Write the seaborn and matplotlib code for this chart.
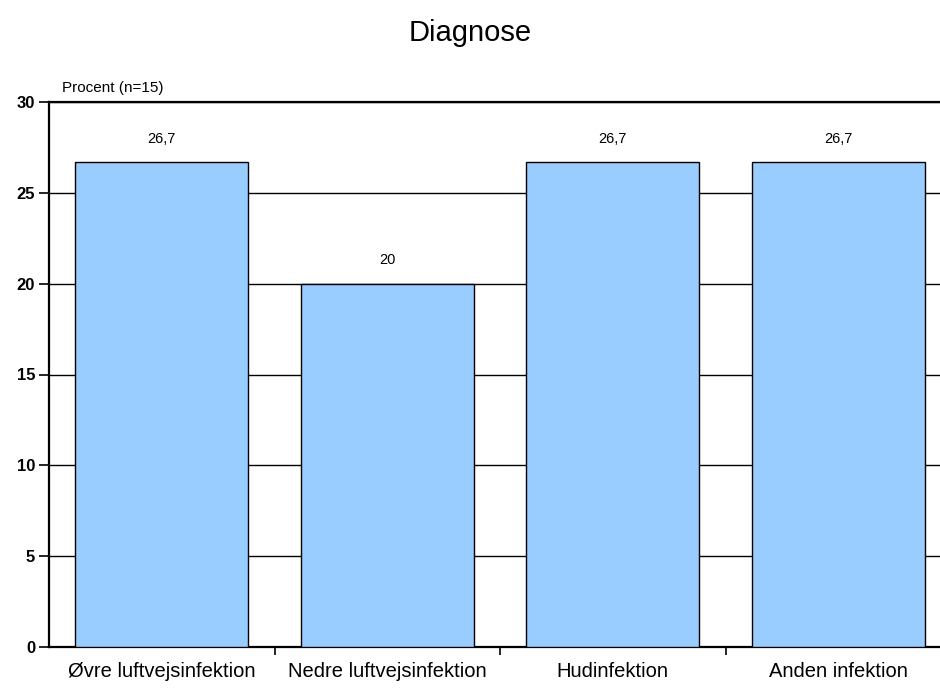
import matplotlib
matplotlib.use("Agg")
import matplotlib.pyplot as plt
import seaborn as sns
import pandas as pd

categories = ["Øvre luftvejsinfektion", "Nedre luftvejsinfektion", "Hudinfektion", "Anden infektion"]
values = [26.7, 20.0, 26.7, 26.7]
value_labels = ["26,7", "20", "26,7", "26,7"]
yticks = [0, 5, 10, 15, 20, 25, 30]

sns.set_style("white")
plt.rcParams['font.family'] = ['Liberation Sans', 'DejaVu Sans']
plt.rcParams['text.color'] = 'black'
plt.rcParams['xtick.color'] = 'black'
plt.rcParams['ytick.color'] = 'black'

df = pd.DataFrame({"cat": categories, "val": values})

fig = plt.figure(figsize=(9.4, 6.88), dpi=100)
ax = fig.add_axes([49/940, 1-647/688, 902/940, (647-102)/688])

sns.barplot(data=df, x="cat", y="val", color="#99CCFF", saturation=1,
            edgecolor="black", linewidth=1.0, width=0.767, ax=ax, zorder=3)

ax.set_ylim(0, 30)
ax.set_xlim(-0.5, 3.5)
ax.set_yticks(yticks)
ax.set_yticklabels([str(t) for t in yticks], fontweight="bold", fontsize=12)
ax.yaxis.grid(True, color="black", linewidth=1.0, zorder=0)
ax.set_axisbelow(True)
ax.set_xlabel("")
ax.set_ylabel("")

ax.set_xticks([0, 1, 2, 3])
ax.set_xticklabels(categories, fontsize=14.5)
ax.tick_params(axis="x", which="major", length=0, pad=11, bottom=True)
ax.set_xticks([0.5, 1.5, 2.5], minor=True)
ax.tick_params(axis="x", which="minor", length=6, width=1.2, color="black", direction="out", bottom=True)
ax.tick_params(axis="y", length=7, width=1.2, color="black", direction="out", pad=3, left=True)

for s in ["left", "bottom", "top", "right"]:
    ax.spines[s].set_visible(True)
    ax.spines[s].set_color("black")
    ax.spines[s].set_linewidth(1.6)

for i, (v, lab) in enumerate(zip(values, value_labels)):
    ax.text(i, v + 0.9, lab, ha="center", va="bottom", fontsize=10.5)

ax.text(62/940, 1-88/688, "Procent (n=15)", transform=fig.transFigure, fontsize=11, ha="left", va="center")
fig.text(0.5, 1-33/688, "Diagnose", ha="center", va="center", fontsize=21)

fig.savefig("out.png", dpi=100)
